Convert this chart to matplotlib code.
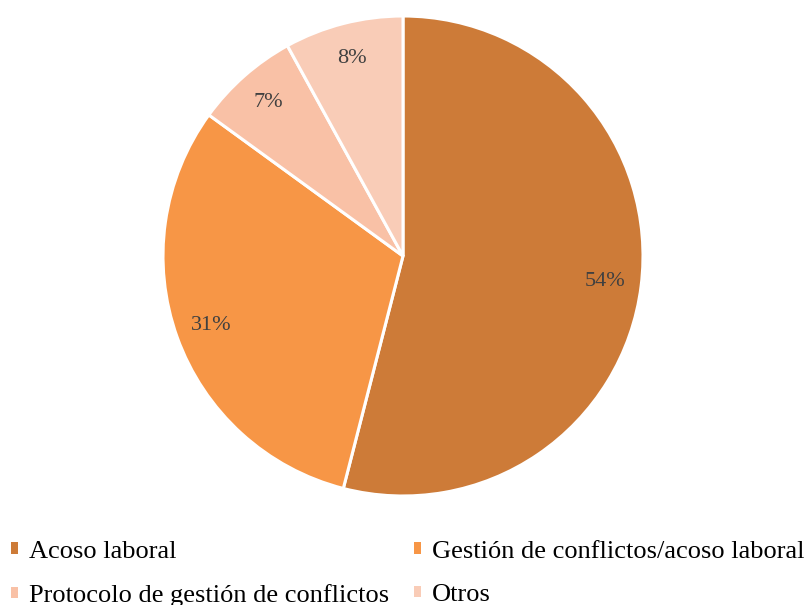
import matplotlib.pyplot as plt
from matplotlib.patches import Patch

categories = ['Acoso laboral', 'Gestión de conflictos/acoso laboral',
              'Protocolo de gestión de conflictos', 'Otros']
shares = [54, 31, 7, 8]
colors = ['#CD7B38', '#F79646', '#F9C1A6', '#F9CCB7']

plt.rcParams['font.family'] = ['Liberation Serif', 'DejaVu Serif']

fig = plt.figure(figsize=(8.06, 6.05), dpi=100)
W, H = 806, 605
cx, cy, r = 403, 256, 240
ax = fig.add_axes([(cx - r) / W, (H - cy - r) / H, 2 * r / W, 2 * r / H])

wedges, texts = ax.pie(shares, colors=colors, startangle=90, counterclock=False,
                       labels=[f'{v}%' for v in shares], labeldistance=0.85,
                       wedgeprops=dict(edgecolor='white', linewidth=2.2),
                       textprops=dict(color='#404040', fontsize=16,
                                      ha='center', va='center'))
for t in texts:
    t.set_horizontalalignment('center')
ax.set_xlim(-1, 1)
ax.set_ylim(-1, 1)
ax.set_aspect('equal')
ax.axis('off')

# legend is filled column by column, reorder so it reads row by row
order = [0, 2, 1, 3]
handles = [Patch(facecolor=colors[i], edgecolor='none') for i in order]
labels = [categories[i] for i in order]
fig.legend(handles, labels, ncol=2, loc='upper left',
           bbox_to_anchor=(0.0, 1 - 530 / H), frameon=False,
           fontsize=19, handlelength=0.27, handleheight=0.27,
           handletextpad=0.42, columnspacing=0.95, labelspacing=0.8,
           borderaxespad=0.0)

fig.savefig('out.png', dpi=100)
